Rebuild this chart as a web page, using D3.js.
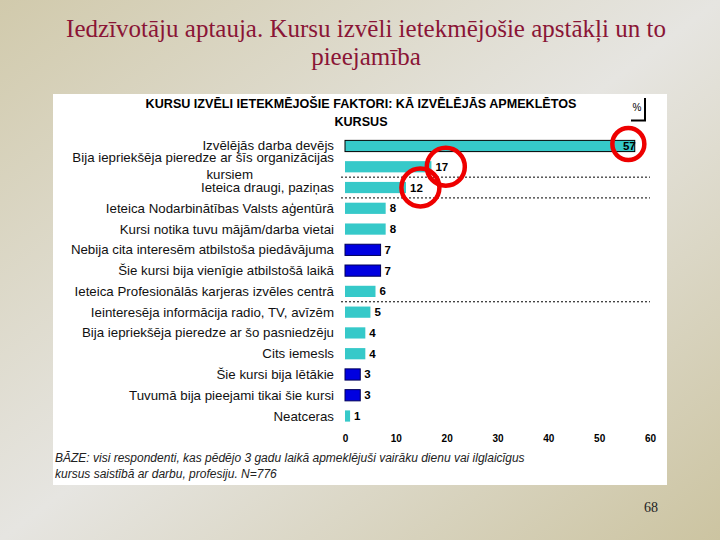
<!DOCTYPE html>
<html>
<head>
<meta charset="utf-8">
<script src="https://cdn.jsdelivr.net/npm/d3@7"></script>
<style>
  html, body { margin: 0; padding: 0; }
  body { width: 720px; height: 540px; overflow: hidden; }
</style>
</head>
<body>
<div id="chart"></div>
<script>
// survey answers, % of respondents
const categories = [
  "Izvēlējās darba devējs",
  "Bija iepriekšēja pieredze ar šīs organizācijas\nkursiem",
  "Ieteica draugi, paziņas",
  "Ieteica Nodarbinātības Valsts aģentūrā",
  "Kursi notika tuvu mājām/darba vietai",
  "Nebija cita interesēm atbilstoša piedāvājuma",
  "Šie kursi bija vienīgie atbilstošā laikā",
  "Ieteica Profesionālās karjeras izvēles centrā",
  "Ieinteresēja informācija radio, TV, avīzēm",
  "Bija iepriekšēja pieredze ar šo pasniedzēju",
  "Cits iemesls",
  "Šie kursi bija lētākie",
  "Tuvumā bija pieejami tikai šie kursi",
  "Neatceras"
];
const values = [57, 17, 12, 8, 8, 7, 7, 6, 5, 4, 4, 3, 3, 1];
// "offer" = reasons tied to lack of other offers (dark bars)
const groups = ["other", "other", "other", "other", "other", "offer", "offer",
  "other", "other", "other", "other", "offer", "offer", "other"];
const circled = ["Izvēlējās darba devējs",
  "Bija iepriekšēja pieredze ar šīs organizācijas\nkursiem",
  "Ieteica draugi, paziņas"];
// dotted separator drawn below these rows
const separatorsAfter = [1, 2, 7];
const xTicks = [0, 10, 20, 30, 40, 50, 60];

const titleLines = ["Iedzīvotāju aptauja. Kursu izvēli ietekmējošie apstākļi un to", "pieejamība"];
const headerLines = ["KURSU IZVĒLI IETEKMĒJOŠIE FAKTORI: KĀ IZVĒLĒJĀS APMEKLĒTOS", "KURSUS"];
const noteLines = [
  "BĀZE: visi respondenti, kas pēdējo 3 gadu laikā apmeklējuši vairāku dienu vai ilglaicīgus",
  "kursus saistībā ar darbu, profesiju. N=776"
];
const pageNumber = "68";

const width = 720;
const height = 540;
const data = categories.map((c, i) => ({ name: c, value: values[i], group: groups[i] }));

const svg = d3.select("#chart")
  .append("svg")
  .attr("width", width)
  .attr("height", height);

const defs = svg.append("defs");
const grad = defs.append("linearGradient")
  .attr("id", "bg")
  .attr("x1", 0).attr("y1", 0).attr("x2", 1).attr("y2", 1);
grad.append("stop").attr("offset", "0%").attr("stop-color", "#d1caac");
grad.append("stop").attr("offset", "50%").attr("stop-color", "#e6e5e1");
grad.append("stop").attr("offset", "100%").attr("stop-color", "#ccc4a1");

svg.append("rect")
  .attr("width", width)
  .attr("height", height)
  .attr("fill", "url(#bg)");

// slide title
svg.append("g")
  .selectAll("text")
  .data(titleLines)
  .join("text")
  .attr("x", 366)
  .attr("y", (d, i) => 37 + i * 28)
  .attr("text-anchor", "middle")
  .style("font-family", "'Liberation Serif', 'Times New Roman', serif")
  .style("font-size", "25px")
  .style("fill", "#8a1536")
  .text((d) => d);

// white chart panel
svg.append("rect")
  .attr("x", 53)
  .attr("y", 94)
  .attr("width", 614)
  .attr("height", 391)
  .attr("fill", "#fff");

const font = "'Liberation Sans', Arial, sans-serif";

svg.append("g")
  .selectAll("text")
  .data(headerLines)
  .join("text")
  .attr("x", 361)
  .attr("y", (d, i) => 108 + i * 18)
  .attr("text-anchor", "middle")
  .style("font-family", font)
  .style("font-size", "12.6px")
  .style("font-weight", "bold")
  .text((d) => d);

// "%" box
svg.append("text")
  .attr("x", 637)
  .attr("y", 111)
  .attr("text-anchor", "middle")
  .style("font-family", font)
  .style("font-size", "10px")
  .text("%");
svg.append("path")
  .attr("d", "M645,98 V120.5 H631")
  .attr("fill", "none")
  .attr("stroke", "#000")
  .attr("stroke-width", 2);

const x = d3.scaleLinear().domain([0, 60]).range([345, 650]);
const y = d3.scaleBand()
  .domain(categories)
  .range([135.6, 426.4])
  .paddingInner(0.46)
  .paddingOuter(0.23);

// category labels
const labels = svg.append("g")
  .selectAll("text")
  .data(data)
  .join("text")
  .attr("text-anchor", "end")
  .style("font-family", font)
  .style("font-size", "13.3px")
  .style("fill", "#111");

labels.each(function (d) {
  const lines = d.name.split("\n");
  const cy = y(d.name) + y.bandwidth() / 2;
  const t = d3.select(this);
  lines.forEach((line, k) => {
    t.append("tspan")
      .attr("x", k === 0 ? 334 : 253)
      .attr("y", cy + 4.5 + (lines.length > 1 ? (k === 0 ? -9 : 8) : 0))
      .text(line);
  });
});

// separators
svg.append("g")
  .selectAll("line")
  .data(separatorsAfter)
  .join("line")
  .attr("x1", 341)
  .attr("x2", 650)
  .attr("y1", (i) => y(categories[i + 1]) - (y.step() * y.paddingInner()) / 2)
  .attr("y2", (i) => y(categories[i + 1]) - (y.step() * y.paddingInner()) / 2)
  .attr("stroke", "#000")
  .attr("stroke-width", 1)
  .attr("stroke-dasharray", "2,2");

// bars
svg.append("g")
  .selectAll("rect")
  .data(data)
  .join("rect")
  .attr("x", x(0))
  .attr("y", (d) => y(d.name))
  .attr("width", (d) => x(d.value) - x(0))
  .attr("height", y.bandwidth())
  .attr("fill", (d) => (d.group === "offer" ? "#0000e0" : "#36c9c9"))
  .attr("stroke", (d, i) => (d.group === "offer" ? "#00005a" : i === 0 ? "#000" : "none"))
  .attr("stroke-width", 1);

// value labels
const valueLabels = svg.append("g")
  .selectAll("text")
  .data(data)
  .join("text")
  .attr("x", (d) => (d.value > 50 ? x(d.value) + 1 : x(d.value) + 4))
  .attr("y", (d) => y(d.name) + y.bandwidth() / 2 + 4)
  .attr("text-anchor", (d) => (d.value > 50 ? "end" : "start"))
  .style("font-family", font)
  .style("font-size", "11.5px")
  .style("font-weight", "bold")
  .text((d) => d.value);

// red highlight circles
const rings = [];
valueLabels.each(function (d) {
  if (!circled.includes(d.name)) return;
  const b = this.getBBox();
  const inside = d.value > 50;
  rings.push({
    cx: b.x + b.width / 2 + (inside ? -1 : 4),
    cy: y(d.name) + y.bandwidth() / 2 + (inside ? -2 : 0),
    r: inside ? 16 : 19
  });
});
svg.append("g")
  .selectAll("circle")
  .data(rings)
  .join("circle")
  .attr("cx", (d) => d.cx)
  .attr("cy", (d) => d.cy)
  .attr("r", (d) => d.r)
  .attr("fill", "none")
  .attr("stroke", "#ee0000")
  .attr("stroke-width", 4.5);

// x axis
const axis = svg.append("g")
  .attr("transform", "translate(0,429)")
  .call(d3.axisBottom(x).tickValues(xTicks).tickSize(0).tickPadding(6));
axis.select(".domain").remove();
axis.selectAll("text")
  .style("font-family", font)
  .style("font-size", "10px")
  .style("font-weight", "bold")
  .style("fill", "#000");

// base note
svg.append("g")
  .selectAll("text")
  .data(noteLines)
  .join("text")
  .attr("x", 55)
  .attr("y", (d, i) => 462 + i * 16)
  .style("font-family", font)
  .style("font-size", "12px")
  .style("font-style", "italic")
  .style("fill", "#222")
  .text((d) => d);

svg.append("text")
  .attr("x", 651)
  .attr("y", 512)
  .attr("text-anchor", "middle")
  .style("font-family", "'Liberation Serif', 'Times New Roman', serif")
  .style("font-size", "14px")
  .style("fill", "#222")
  .text(pageNumber);
</script>
</body>
</html>
